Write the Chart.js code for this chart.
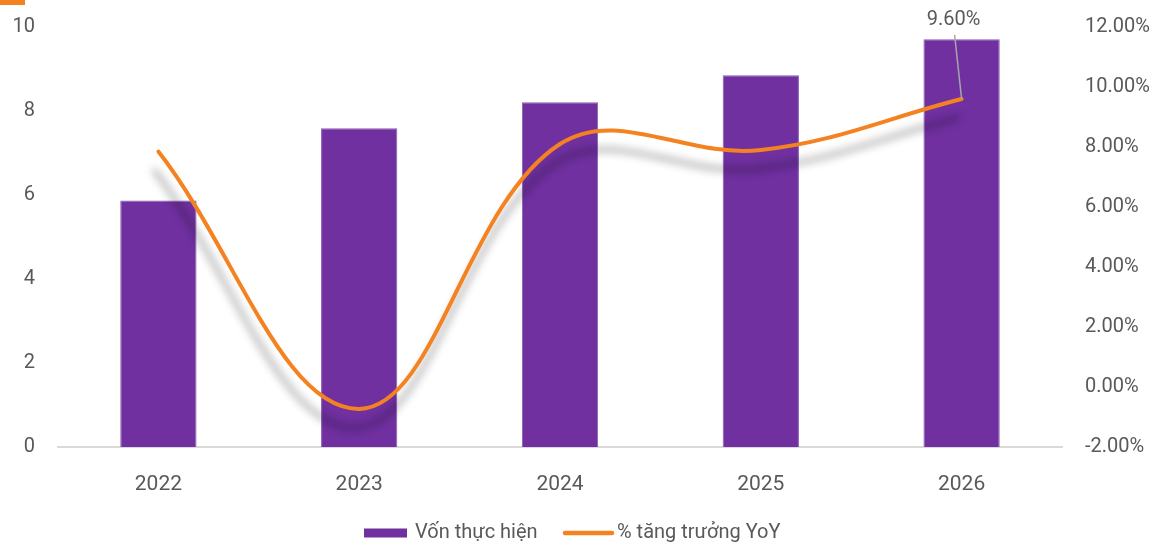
<!DOCTYPE html>
<html>
<head>
<meta charset="utf-8">
<script src="https://cdn.jsdelivr.net/npm/chart.js@4.4.1/dist/chart.umd.min.js"></script>
<style>
  html, body { margin: 0; padding: 0; background: #fff; }
  #wrap { position: relative; width: 1157px; height: 544px; }
  #tag { position: absolute; left: 0; top: 0; width: 25px; height: 5px; background: #f58220; }
</style>
</head>
<body>
<div id="wrap">
  <canvas id="chart" width="1157" height="544"></canvas>
  <div id="tag"></div>
</div>
<script>
// Dữ liệu
const years = ['2022', '2023', '2024', '2025', '2026'];
const vonThucHien = [5.87, 7.59, 8.21, 8.85, 9.71];
const tangTruong = [7.85, -0.73, 8.1, 7.9, 9.6];
const leftTicks = [0, 2, 4, 6, 8, 10];
const rightTicks = [-2, 0, 2, 4, 6, 8, 10, 12];
const seriesNames = ['Vốn thực hiện', '% tăng trưởng YoY'];

const PURPLE = '#7030a0';
const ORANGE = '#f58220';
const GREY = '#595959';
const FONT = 'Roboto';

// bóng mờ cho đường
const lineShadow = {
    id: 'lineShadow',
    beforeDatasetDraw(chart, args) {
        if (args.index !== 1) return;
        const ctx = chart.ctx;
        ctx.save();
        ctx.shadowColor = 'rgba(0,0,0,0.38)';
        ctx.shadowBlur = 9;
        ctx.shadowOffsetX = -4;
        ctx.shadowOffsetY = 19;
    },
    afterDatasetDraw(chart, args) {
        if (args.index !== 1) return;
        chart.ctx.restore();
    }
};

// nhãn 9.60% và chú giải
const extras = {
    id: 'extras',
    afterDraw(chart) {
        const ctx = chart.ctx;
        const meta = chart.getDatasetMeta(1);
        const last = meta.data[meta.data.length - 1];
        const lx = last.x - 8, ly = 20;
        ctx.save();
        ctx.strokeStyle = '#a6a6a6';
        ctx.lineWidth = 1.5;
        ctx.beginPath();
        ctx.moveTo(lx + 1, ly + 15);
        ctx.lineTo(last.x, last.y);
        ctx.stroke();
        ctx.fillStyle = GREY;
        ctx.font = '20px ' + FONT;
        ctx.textAlign = 'center';
        ctx.textBaseline = 'middle';
        ctx.fillText(tangTruong[tangTruong.length - 1].toFixed(2) + '%', lx, ly);

        // legend
        const cy = 533;
        ctx.textAlign = 'left';
        ctx.fillStyle = PURPLE;
        ctx.fillRect(364, cy - 4.5, 43, 9);
        ctx.fillStyle = GREY;
        ctx.fillText(seriesNames[0], 415, cy);
        ctx.strokeStyle = ORANGE;
        ctx.lineWidth = 4.5;
        ctx.lineCap = 'round';
        ctx.beginPath();
        ctx.moveTo(565, cy);
        ctx.lineTo(612, cy);
        ctx.stroke();
        ctx.fillText(seriesNames[1], 617, cy);
        ctx.restore();
    }
};

function fitY(width) {
    return s => { s.width = width; s.paddingTop = 0; s.paddingBottom = 0; };
}

new Chart(document.getElementById('chart'), {
    data: {
        labels: years,
        datasets: [
            {
                type: 'bar',
                label: seriesNames[0],
                data: vonThucHien,
                backgroundColor: PURPLE,
                borderColor: '#8a5bb5',
                borderWidth: { top: 1, left: 1, right: 1, bottom: 0 },
                barPercentage: 0.38,
                categoryPercentage: 1,
                yAxisID: 'y',
                order: 2
            },
            {
                type: 'line',
                label: seriesNames[1],
                data: tangTruong,
                borderColor: ORANGE,
                borderWidth: 4,
                borderCapStyle: 'round',
                pointRadius: 0,
                tension: 0.38,
                fill: false,
                clip: false,
                yAxisID: 'y1',
                order: 1
            }
        ]
    },
    options: {
        responsive: false,
        animation: false,
        layout: { padding: { top: 27, bottom: 51, left: 0, right: 0 } },
        plugins: {
            legend: { display: false },
            tooltip: { enabled: false }
        },
        scales: {
            x: {
                grid: { display: false, drawTicks: false },
                border: { display: true, color: '#d9d9d9', width: 2 },
                ticks: { color: GREY, font: { family: FONT, size: 21 }, padding: 25 },
                afterFit(s) { s.height = 46; s.paddingLeft = 0; s.paddingRight = 0; }
            },
            y: {
                position: 'left',
                min: 0, max: 10,
                afterBuildTicks(s) { s.ticks = leftTicks.map(v => ({ value: v })); },
                grid: { display: false, drawTicks: false },
                border: { display: false },
                ticks: { color: GREY, font: { family: FONT, size: 20 }, padding: 23 },
                afterFit: fitY(58)
            },
            y1: {
                position: 'right',
                min: -2, max: 12,
                afterBuildTicks(s) { s.ticks = rightTicks.map(v => ({ value: v })); },
                grid: { display: false, drawTicks: false },
                border: { display: false },
                ticks: {
                    color: GREY, font: { family: FONT, size: 20 }, padding: 23,
                    callback: v => v.toFixed(2) + '%'
                },
                afterFit: fitY(95)
            }
        }
    },
    plugins: [lineShadow, extras]
});
</script>
</body>
</html>
